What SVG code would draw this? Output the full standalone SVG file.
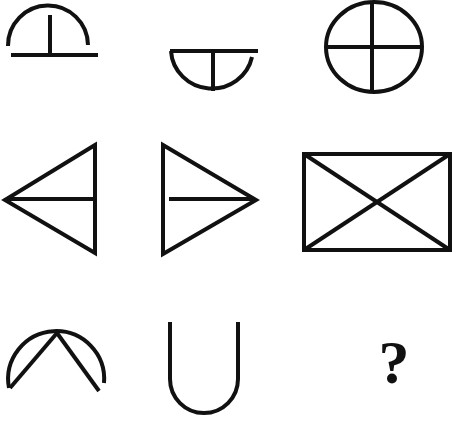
<svg xmlns="http://www.w3.org/2000/svg" width="454" height="421" viewBox="0 0 454 421">
<style>
.s{fill:none;stroke:#111;stroke-width:4;stroke-linecap:butt;stroke-linejoin:miter}
.q{font-family:"Liberation Serif",serif;font-weight:bold;font-size:62px;fill:#111}
</style>
<rect width="454" height="421" fill="#fff"/>
<g id="fig1" class="s">
<path d="M8,46 A40,40 0 0 1 88,45"/>
<line x1="50" y1="15" x2="50" y2="55"/>
<line x1="11" y1="55" x2="98" y2="55"/>
</g>
<g id="fig2" class="s">
<line x1="170" y1="51" x2="258" y2="51"/>
<path d="M171,51 A41,40 0 0 0 252,57"/>
<line x1="213" y1="51" x2="213" y2="91"/>
</g>
<g id="fig3" class="s">
<ellipse cx="374" cy="47" rx="48" ry="45"/>
<line x1="372" y1="2" x2="372" y2="92"/>
<line x1="326" y1="47" x2="422" y2="47"/>
</g>
<g id="fig4" class="s">
<path d="M95,145 L5,200 L95,253 Z"/>
<line x1="8" y1="199" x2="95" y2="199"/>
</g>
<g id="fig5" class="s">
<path d="M163,145 L256,200 L163,254 Z"/>
<line x1="169" y1="199" x2="252" y2="199"/>
</g>
<g id="fig6" class="s">
<rect x="304" y="154" width="146" height="96"/>
<line x1="304" y1="154" x2="450" y2="250"/>
<line x1="450" y1="154" x2="304" y2="250"/>
</g>
<g id="fig7" class="s">
<path d="M9,388 A48,48 0 1 1 104,383"/>
<line x1="57" y1="333" x2="10" y2="388"/>
<line x1="57" y1="333" x2="99" y2="391"/>
</g>
<g id="fig8" class="s">
<path d="M170,322 L170,379 A34,34 0 0 0 238,379 L238,322"/>
</g>
<g id="question">
<text class="q" x="394" y="383" text-anchor="middle">?</text>
</g>
</svg>
